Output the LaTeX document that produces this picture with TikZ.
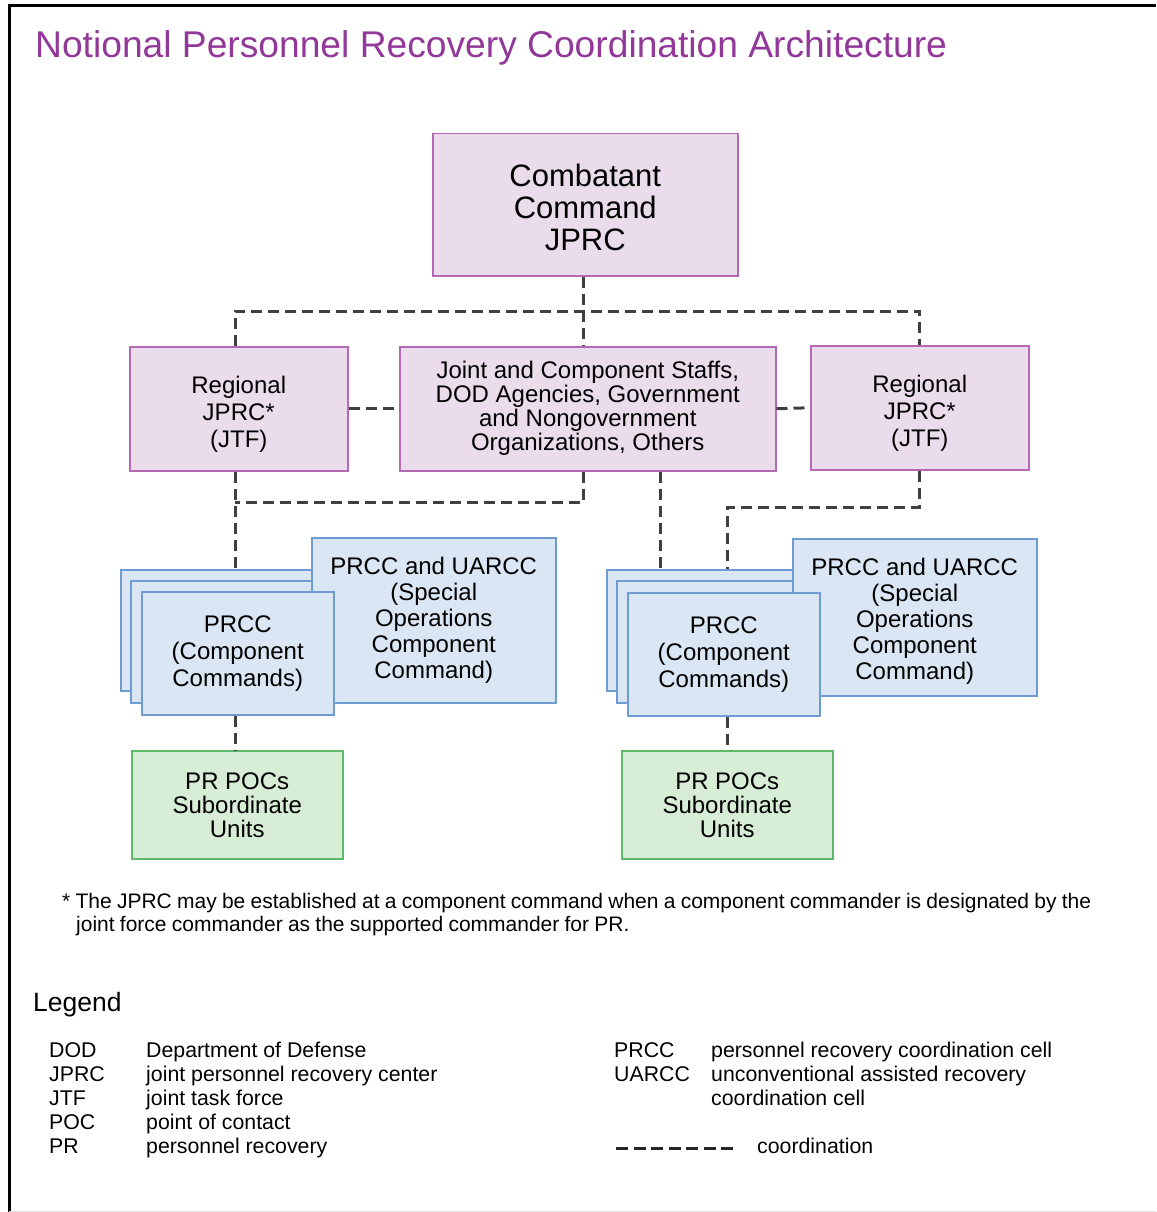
\documentclass[tikz,border=0pt]{standalone}
\usepackage{fontspec}
\setmainfont{Liberation Sans}
\usepackage{xcolor}
\usepackage{tikz}
\usetikzlibrary{
    arrows.meta,
    positioning
}
\definecolor{titlepurple}{RGB}{146,56,152}
\definecolor{jprcfill}{RGB}{234,220,235}
\definecolor{jprcline}{RGB}{180,105,180}
\definecolor{prccfill}{RGB}{218,230,244}
\definecolor{prccline}{RGB}{110,155,210}
\definecolor{pocfill}{RGB}{216,237,214}
\definecolor{pocline}{RGB}{94,186,106}
\definecolor{dashgray}{RGB}{64,64,64}
\tikzstyle{jprcbox} = [
    draw=jprcline,
    fill=jprcfill,
    line width=1.5pt,
    anchor=north west,
    inner sep=0pt,
    align=center
]
\tikzstyle{prccbox} = [
    draw=prccline,
    fill=prccfill,
    line width=1.5pt,
    anchor=north west,
    inner sep=0pt,
    align=center,
    font=\fontsize{24}{26}\selectfont
]
\tikzstyle{pocbox} = [
    draw=pocline,
    fill=pocfill,
    line width=1.5pt,
    anchor=north west,
    inner sep=0pt,
    align=center,
    minimum width=211pt,
    minimum height=108pt,
    font=\fontsize{24}{24}\selectfont
]
\tikzstyle{boxlabel} = [
    inner sep=0pt,
    align=center
]
\tikzstyle{coord} = [
    draw=dashgray,
    line width=3pt,
    dash pattern=on 11pt off 6pt
]
\tikzstyle{legtext} = [
    anchor=base west,
    inner sep=0pt,
    font=\fontsize{21.3}{24}\selectfont
]

\begin{document}
\begin{tikzpicture}[x=1pt,y=-1pt]
\useasboundingbox (0,0) rectangle (1156,1212);
% frame
\draw[line width=3pt] (9,1212) -- (9,6) -- (1156,6);
\draw[gray!25] (9,1211) -- (1156,1211);
\node[anchor=base west, inner sep=0pt, text=titlepurple, font=\fontsize{37.2}{40}\selectfont]
    (title) at (35,58) {Notional Personnel Recovery Coordination Architecture};

% top level
\node[jprcbox, minimum width=305pt, minimum height=142pt,
    label={[boxlabel, yshift=-3pt, font=\fontsize{31}{32}\selectfont]center:{Combatant\\Command\\JPRC}}]
    (ccjprc) at (432,133) {};
\node[jprcbox, minimum width=218pt, minimum height=124pt,
    label={[boxlabel, yshift=-5.5pt, font=\fontsize{24}{27}\selectfont]center:{Regional\\JPRC*\\(JTF)}}]
    (regl) at (129,346) {};
\node[jprcbox, minimum width=376pt, minimum height=124pt, font=\fontsize{24}{24}\selectfont]
    (staffs) at (399,346) {Joint and Component Staffs,\\DOD Agencies, Government\\and Nongovernment\\Organizations, Others};
\node[jprcbox, minimum width=218pt, minimum height=124pt,
    label={[boxlabel, yshift=-5.5pt, font=\fontsize{24}{27}\selectfont]center:{Regional\\JPRC*\\(JTF)}}]
    (regr) at (810,345) {};

% component cells, left
\node[prccbox, minimum width=200pt, minimum height=121pt] (backa) at (120,569) {};
\node[prccbox, minimum width=200pt, minimum height=122pt] (backb) at (130,580) {};
\node[prccbox, minimum width=244pt, minimum height=165pt] (spcl) at (311,537)
    {PRCC and UARCC\\(Special\\Operations\\Component\\Command)};
\node[prccbox, minimum width=192pt, minimum height=123pt, font=\fontsize{24}{27}\selectfont]
    (prccl) at (141,591) {PRCC\\(Component\\Commands)};

% component cells, right
\node[prccbox, minimum width=200pt, minimum height=121pt] (backc) at (606,569) {};
\node[prccbox, minimum width=200pt, minimum height=122pt] (backd) at (616,580) {};
\node[prccbox, minimum width=244pt, minimum height=157pt,
    label={[boxlabel, yshift=-4pt, font=\fontsize{24}{26}\selectfont]center:{PRCC and UARCC\\(Special\\Operations\\Component\\Command)}}]
    (spcr) at (792,538) {};
\node[prccbox, minimum width=192pt, minimum height=123pt, font=\fontsize{24}{27}\selectfont]
    (prccr) at (627,592) {PRCC\\(Component\\Commands)};

% subordinate units
\node[pocbox] (pocl) at (131,750) {PR POCs\\Subordinate\\Units};
\node[pocbox] (pocr) at (621,750) {PR POCs\\Subordinate\\Units};

% coordination lines
\coordinate (bus) at (583,311);
\coordinate (jnl) at (235,502);
\coordinate (jnr) at (727,507);
\draw[coord] (ccjprc.south -| bus) -- (bus |- staffs.north);
\draw[coord] (regl.north -| jnl) |- (bus) -| (regr.north);
\draw[coord] (regl.east) -- (staffs.west);
\draw[coord] (staffs.east) -- (regr.west);
\draw[coord] (regl.south -| jnl) -- (jnl |- backa.north);
\draw[coord] (staffs.south -| bus) |- (jnl);
\draw[coord] ([xshift=73pt]staffs.south) -- ([xshift=73pt]staffs.south |- backc.north);
\draw[coord] (regr.south) |- (jnr) -- (jnr |- backc.north);
\draw[coord] (prccl.south -| jnl) -- (jnl |- pocl.north);
\draw[coord] (prccr.south -| jnr) -- (jnr |- pocr.north);

% footnote
\node[anchor=base west, inner sep=0pt, font=\fontsize{21}{23}\selectfont]
    (fnotea) at (62,908) {\spaceskip=0.25em * The JPRC may be established at a component command when a component commander is designated by the};
\node[anchor=base west, inner sep=0pt, font=\fontsize{21}{23}\selectfont]
    (fnoteb) at (76,931) {\spaceskip=0.25em joint force commander as the supported commander for PR.};

% legend
\node[anchor=base west, inner sep=0pt, font=\fontsize{26.5}{28}\selectfont]
    (legend) at (33,1011) {Legend};
\foreach \abbr/\desc [count=\i] in {DOD/Department of Defense,
    JPRC/joint personnel recovery center, JTF/joint task force,
    POC/point of contact, PR/personnel recovery}
{
    \node[legtext] (abbr\i) at (49,1033+24*\i) {\abbr};
    \node[legtext] (desc\i) at (146,1033+24*\i) {\desc};
}
\node[legtext] (abbrprcc) at (614,1057) {PRCC};
\node[legtext] (descprcc) at (711,1057) {personnel recovery coordination cell};
\node[legtext] (abbruarcc) at (614,1081) {UARCC};
\node[legtext] (descuarcc) at (711,1081) {unconventional assisted recovery};
\node[legtext] (descuarccb) at (711,1105) {coordination cell};
\coordinate (legs) at (616,1148);
\coordinate (lege) at (737,1148);
\draw[draw=black!85, line width=3pt, dash pattern=on 12pt off 5.5pt] (legs) -- (lege);
\node[legtext] (desccoord) at (757,1153) {coordination};
\end{tikzpicture}
\end{document}
